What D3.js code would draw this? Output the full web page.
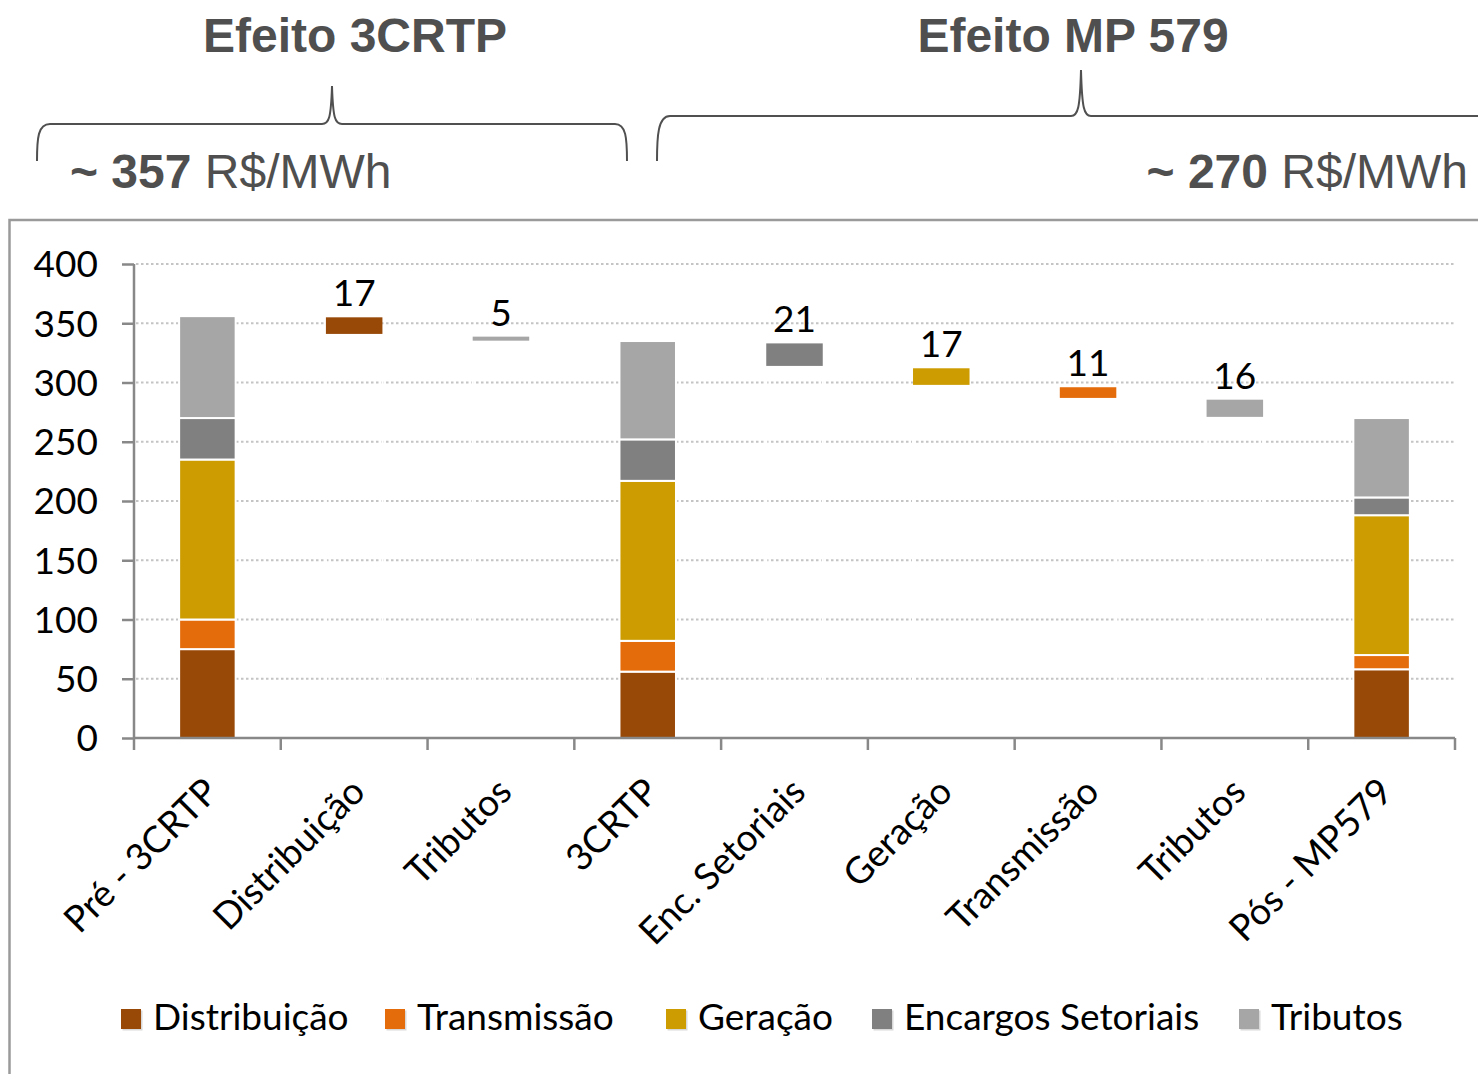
<!DOCTYPE html>
<html>
<head>
<meta charset="utf-8">
<script src="https://cdn.jsdelivr.net/npm/d3@7"></script>
<style>
  html, body { margin: 0; padding: 0; background: #fff; }
  svg { display: block; }
</style>
</head>
<body>
<svg id="chart" width="1478" height="1074"></svg>
<script>
// ---------- DATA ----------
const categories = ["Pré - 3CRTP", "Distribuição", "Tributos", "3CRTP", "Enc. Setoriais", "Geração", "Transmissão", "Tributos", "Pós - MP579"];
const components = ["Distribuição", "Transmissão", "Geração", "Encargos Setoriais", "Tributos"];
const componentColors = ["#984807", "#E46C0A", "#CC9C00", "#808080", "#A6A6A6"];

// stacked total bars (category indices 0, 3, 8)
const totalIndex = [0, 3, 8];
const distribuicao = [75, 56, 58];
const transmissao = [25, 26, 12];
const geracao = [135, 135, 118];
const encargos = [35, 35, 15];
const tributos = [86, 83, 67];

// floating (waterfall) bars
const deltaIndex = [1, 2, 4, 5, 6, 7];
const deltaComponent = ["Distribuição", "Tributos", "Encargos Setoriais", "Geração", "Transmissão", "Tributos"];
const deltaLow = [341, 335.3, 314, 298, 287, 271];
const deltaHigh = [355, 338.7, 333, 312, 296, 285.5];
const deltaLabels = ["17", "5", "21", "17", "11", "16"];

const yTicks = [0, 50, 100, 150, 200, 250, 300, 350, 400];

const headers = [
  { title: "Efeito 3CRTP", value: "357", unit: " R$/MWh" },
  { title: "Efeito MP 579", value: "270", unit: " R$/MWh" }
];

// ---------- DRAW ----------
(function () {
const svg = d3.select("#chart");
const W = 1478, H = 1074;
const pL = 134, pR = 1455, pT = 264, pB = 738;
const font = "Lato, 'Open Sans', sans-serif";
const fs = 37;
const color = d3.scaleOrdinal().domain(components).range(componentColors);

const x = d3.scaleBand().domain(d3.range(categories.length)).range([pL, pR]).padding(0);
const y = d3.scaleLinear().domain([0, 400]).range([pB, pT]);
const barW = x.bandwidth() * 0.385;
const barX = i => x(i) + x.bandwidth() / 2 - barW / 2;

// Chart area border
svg.append("rect")
  .attr("x", 9.5).attr("y", 220)
  .attr("width", W + 40).attr("height", H)
  .attr("fill", "none").attr("stroke", "#9a9a9a").attr("stroke-width", 2.5);

// Gridlines
svg.append("g").selectAll("line").data(yTicks.filter(d => d > 0)).join("line")
  .attr("x1", pL + 2).attr("x2", pR)
  .attr("y1", d => y(d)).attr("y2", d => y(d))
  .attr("stroke", "#c4c4c4").attr("stroke-width", 2)
  .attr("stroke-dasharray", "2.5,2.5");

// Invisible base bars (white edges cut the gridlines, as in the source)
svg.append("g").selectAll("rect").data(deltaIndex).join("rect")
  .attr("x", i => barX(i)).attr("width", barW)
  .attr("y", (d, k) => y(deltaLow[k])).attr("height", (d, k) => y(0) - y(deltaLow[k]))
  .attr("fill", "none").attr("stroke", "#fff").attr("stroke-width", 2);

// Stacked totals
const series = [distribuicao, transmissao, geracao, encargos, tributos];
const rows = totalIndex.map((idx, k) => {
  const r = { idx };
  components.forEach((c, j) => r[c] = series[j][k]);
  return r;
});
const stack = d3.stack().keys(components)(rows);
svg.append("g").selectAll("g").data(stack).join("g")
  .attr("fill", d => color(d.key))
  .selectAll("rect").data(d => d).join("rect")
  .attr("x", d => barX(d.data.idx)).attr("width", barW)
  .attr("y", d => y(d[1])).attr("height", d => y(d[0]) - y(d[1]))
  .attr("stroke", "#fff").attr("stroke-width", 2);

// Floating bars
const g = svg.append("g");
g.selectAll("rect").data(deltaIndex).join("rect")
  .attr("x", i => barX(i)).attr("width", barW)
  .attr("y", (d, k) => y(deltaHigh[k])).attr("height", (d, k) => y(deltaLow[k]) - y(deltaHigh[k]))
  .attr("fill", (d, k) => color(deltaComponent[k]));
g.selectAll("text").data(deltaIndex).join("text")
  .attr("x", i => x(i) + x.bandwidth() / 2)
  .attr("y", (d, k) => y(deltaHigh[k]) - 11)
  .attr("text-anchor", "middle")
  .attr("font-family", font).attr("font-size", fs).attr("fill", "#000")
  .text((d, k) => deltaLabels[k]);

// Y axis
const yAxis = svg.append("g").attr("transform", `translate(${pL},0)`)
  .call(d3.axisLeft(y).tickValues(yTicks).tickSize(12).tickPadding(24));
yAxis.selectAll("path, line").attr("stroke", "#888").attr("stroke-width", 2.5);
yAxis.select(".domain").attr("d", `M0,${pT}V${pB}`);
yAxis.selectAll("text").attr("font-family", font).attr("font-size", fs).attr("fill", "#000")
  .attr("dy", "0.35em");

// X axis
const xg = svg.append("g");
xg.append("line").attr("x1", pL).attr("x2", pR).attr("y1", pB).attr("y2", pB)
  .attr("stroke", "#888").attr("stroke-width", 2.5);
xg.selectAll("line.tk").data(d3.range(categories.length + 1)).join("line").attr("class", "tk")
  .attr("x1", i => i < categories.length ? x(i) : pR).attr("x2", i => i < categories.length ? x(i) : pR)
  .attr("y1", pB).attr("y2", pB + 12)
  .attr("stroke", "#888").attr("stroke-width", 2.5);
xg.selectAll("text").data(categories).join("text")
  .attr("transform", (d, i) => `translate(${x(i) + x.bandwidth() / 2 + 13},${pB + 56}) rotate(-45)`)
  .attr("text-anchor", "end")
  .attr("font-family", font).attr("font-size", fs).attr("fill", "#000")
  .text(d => d);

// Legend
const legendX = [121, 385, 666, 872, 1239];
const lg = svg.append("g").selectAll("g").data(components).join("g")
  .attr("transform", (d, i) => `translate(${legendX[i]},1009)`);
lg.append("rect").attr("x", 1.5).attr("y", 1.5).attr("width", 20).attr("height", 20).attr("fill", "#d9d9d9");
lg.append("rect").attr("width", 20).attr("height", 20).attr("fill", d => color(d));
lg.append("text").attr("x", 32).attr("y", 21)
  .attr("font-family", font).attr("font-size", fs).attr("fill", "#000")
  .text(d => d);

// Headers & braces
const hfont = "'Liberation Sans', Arial, sans-serif";
const hx = [355, 1073];
svg.selectAll("text.h").data(headers).join("text").attr("class", "h")
  .attr("x", (d, i) => hx[i]).attr("y", 52)
  .attr("text-anchor", "middle")
  .attr("font-family", hfont).attr("font-weight", "bold").attr("font-size", 48).attr("fill", "#4f4f4f")
  .text(d => d.title);

const vt = svg.selectAll("text.v").data(headers).join("text").attr("class", "v")
  .attr("x", (d, i) => i === 0 ? 70 : 1468).attr("y", 188)
  .attr("text-anchor", (d, i) => i === 0 ? "start" : "end")
  .attr("font-family", hfont).attr("font-size", 48).attr("fill", "#4f4f4f");
vt.append("tspan").attr("font-weight", "bold").text(d => "~ " + d.value);
vt.append("tspan").text(d => d.unit);

svg.append("path")
  .attr("d", "M37,161 C37,138 38,124 50,124 L322,124 C329,124 331,118 332,86 C333,118 335,124 342,124 L615,124 C626,124 627,138 627,161")
  .attr("fill", "none").attr("stroke", "#505050").attr("stroke-width", 2);
svg.append("path")
  .attr("d", "M657,161 C657,136 658,116 670,116 L1071,116 C1078,116 1080,108 1081,70 C1082,108 1084,116 1091,116 L1480,116")
  .attr("fill", "none").attr("stroke", "#505050").attr("stroke-width", 2);
})();
</script>
</body>
</html>
